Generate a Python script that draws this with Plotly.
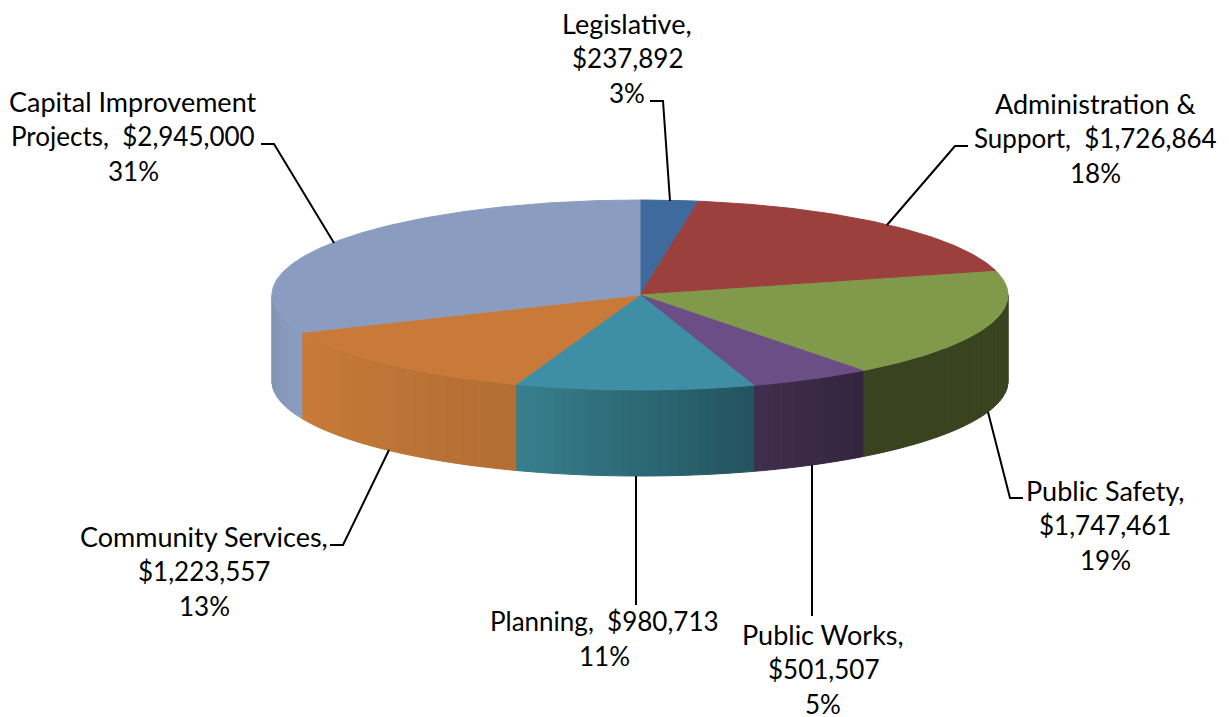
import math
import plotly.graph_objects as go

# Budget by department, clockwise from twelve o'clock
categories = ["Legislative", "Administration & Support", "Public Safety", "Public Works",
              "Planning", "Community Services", "Capital Improvement Projects"]
amounts = [237892, 1726864, 1747461, 501507, 980713, 1223557, 2945000]
percents = [3, 18, 19, 5, 11, 13, 31]

top_colors = ["#3E6A9E", "#9C403E", "#80994A", "#6A4E85", "#3E8EA6", "#C97A38", "#8A9DC0"]
wall_colors = [
    ("#3E6A9E", "#3E6A9E"), ("#9C403E", "#9C403E"), ("#3A4320", "#3A4320"),
    ("#33253D", "#403050"), ("#23545F", "#38808F"), ("#B36E34", "#C97B38"),
    ("#8A9DBE", "#7F92B4"),
]

# Label rows per slice, with their block centre and row pitch
label_rows = [
    ["Legislative,", "${a}", "{p}%"],
    ["Administration &", "Support,  ${a}", "{p}%"],
    ["Public Safety,", "${a}", "{p}%"],
    ["Public Works,", "${a}", "{p}%"],
    ["Planning,  ${a}", "{p}%"],
    ["Community Services,", "${a}", "{p}%"],
    ["Capital Improvement", "Projects,  ${a}", "{p}%"],
]
label_anchor = [(627, 23), (1095, 103), (1105, 490), (823, 634), (604, 621), (204, 536), (133, 101)]
ROW_PITCH = 35
WORD_FONT_SIZE = 27
FIGURE_FONT_SIZE = 26

leaders = [
    [(650, 101), (663, 101), (670, 201)],
    [(968, 146), (955, 146), (887, 225)],
    [(988, 412), (1010, 498), (1023, 498)],
    [(812, 465), (812, 616)],
    [(636, 476), (636, 605)],
    [(389, 450), (343, 545), (330, 545)],
    [(261, 144), (274, 144), (334, 243)],
]

# Pie projection
CX, CY, RX, RY, DEPTH = 640, 295, 368, 95, 86


def rim(angle_deg):
    a = math.radians(angle_deg)
    return CX + RX * math.sin(a), CY - RY * math.cos(a)


def arc_angles(start, end, step=1.0):
    n = max(2, int(abs(end - start) / step) + 1)
    return [start + (end - start) * i / (n - 1) for i in range(n)]


def mix(c1, c2, t):
    rgb1 = [int(c1[i:i + 2], 16) for i in (1, 3, 5)]
    rgb2 = [int(c2[i:i + 2], 16) for i in (1, 3, 5)]
    return "rgb({},{},{})".format(*[round(a + (b - a) * t) for a, b in zip(rgb1, rgb2)])


total = sum(amounts)
edges = [0.0]
for v in amounts:
    edges.append(edges[-1] + v / total * 360)

fig = go.Figure()


def add_poly(xs, ys, color):
    fig.add_trace(go.Scatter(x=xs, y=ys, mode="lines", fill="toself", fillcolor=color,
                             line=dict(color=color, width=1), hoverinfo="skip", showlegend=False))


# Side wall: the front half of the rim, split into strips for its gradient
for i in range(len(amounts)):
    start = max(edges[i], 90)
    end = min(edges[i + 1], 270)
    if end <= start:
        continue
    angles = arc_angles(start, end, 1.5)
    c_start, c_end = wall_colors[i]
    for a0, a1 in zip(angles, angles[1:]):
        pts = [rim(a) for a in arc_angles(a0, a1, 0.5)]
        xs = [p[0] for p in pts] + [p[0] for p in reversed(pts)]
        ys = [p[1] for p in pts] + [p[1] + DEPTH for p in reversed(pts)]
        add_poly(xs + xs[:1], ys + ys[:1], mix(c_start, c_end, (a0 - start) / (end - start)))

# Top face
for i in range(len(amounts)):
    pts = [rim(a) for a in arc_angles(edges[i], edges[i + 1], 0.5)]
    xs = [CX] + [p[0] for p in pts] + [CX]
    ys = [CY] + [p[1] for p in pts] + [CY]
    add_poly(xs, ys, top_colors[i])

# Leader lines
for path in leaders:
    fig.add_trace(go.Scatter(x=[p[0] for p in path], y=[p[1] for p in path], mode="lines",
                             line=dict(color="#000000", width=2), hoverinfo="skip", showlegend=False))

# Data labels: rows without figures are set slightly larger
annotations = []
for rows, (ax, ay), amt, pct in zip(label_rows, label_anchor, amounts, percents):
    for r, row in enumerate(rows):
        has_figure = "{" in row
        annotations.append(dict(
            x=ax, y=ay + r * ROW_PITCH, xref="x", yref="y", showarrow=False,
            xanchor="center", yanchor="middle",
            text=row.format(a=f"{amt:,}", p=pct).replace("&", "&amp;").replace("  ", "\u00a0 "),
            font=dict(family="Lato, Carlito, sans-serif", color="#000000",
                      size=FIGURE_FONT_SIZE if has_figure else WORD_FONT_SIZE),
        ))

fig.update_layout(
    width=1229, height=717, autosize=False,
    margin=dict(l=0, r=0, t=0, b=0),
    paper_bgcolor="#FFFFFF", plot_bgcolor="#FFFFFF",
    xaxis=dict(range=[0, 1229], visible=False, fixedrange=True),
    yaxis=dict(range=[717, 0], visible=False, fixedrange=True),
    annotations=annotations,
    showlegend=False,
)

fig.write_html("out.html", config=dict(displayModeBar=False))
